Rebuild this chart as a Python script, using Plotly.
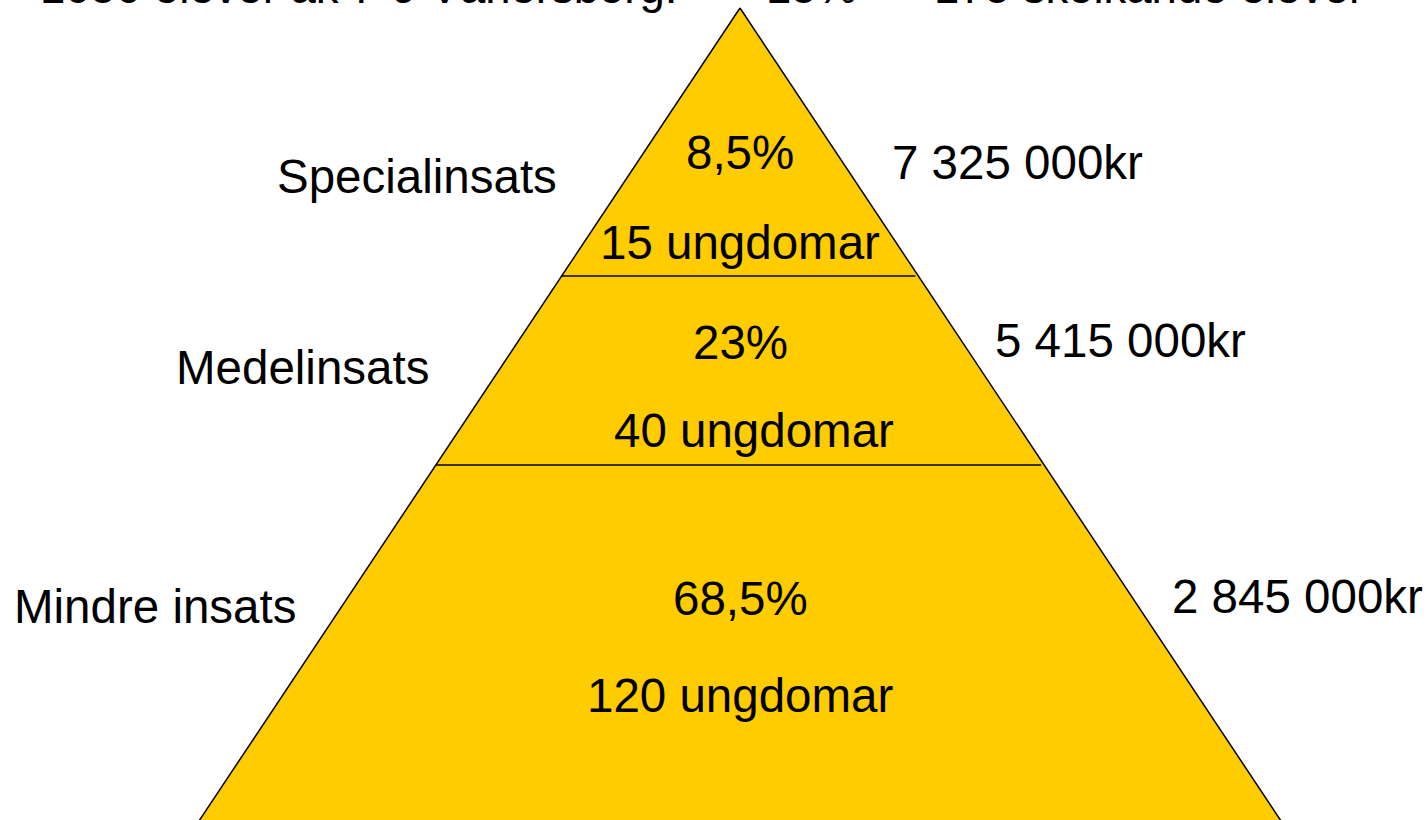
import plotly.graph_objects as go

# Data
levels = ["Specialinsats", "Medelinsats", "Mindre insats"]
percents = ["8,5%", "23%", "68,5%"]
counts = ["15 ungdomar", "40 ungdomar", "120 ungdomar"]
costs = ["7 325 000kr", "5 415 000kr", "2 845 000kr"]
header = "1050 elever åk 7-9 Vänersborg:       15%  =  175 skolkande elever"

# Layout geometry (pixels in a 1426x820 canvas)
W, H = 1426, 820
apex_x, apex_y = 740, 8
slope = 0.6655  # horizontal run per vertical pixel of pyramid sides
base_y = 830
dividers_y = [276, 465]

FONT = "Liberation Sans, Arial, sans-serif"
FS = 47.5
HFS = 45.5
YELLOW = "#FFCC00"

fig = go.Figure()

half = slope * (base_y - apex_y)
fig.add_trace(go.Scatter(
    x=[apex_x, apex_x + half, apex_x - half, apex_x],
    y=[apex_y, base_y, base_y, apex_y],
    mode="lines", fill="toself", fillcolor=YELLOW,
    line=dict(color="black", width=1.5), hoverinfo="skip", showlegend=False))

for dy in dividers_y:
    hw = slope * (dy - apex_y)
    fig.add_trace(go.Scatter(
        x=[apex_x - hw, apex_x + hw - 3], y=[dy, dy], mode="lines",
        line=dict(color="black", width=1.5), hoverinfo="skip", showlegend=False))

label_pos = [(417, 176), (302, 367), (155, 606)]
pct_pos = [(740, 152), (740, 342), (740, 598)]
cnt_pos = [(740, 242), (754, 430), (740, 695)]
cost_pos = [(1017, 162), (1120, 340), (1297, 596)]

def txt(s, pos):
    fig.add_annotation(x=pos[0], y=pos[1], text=s, showarrow=False,
                       xanchor="center", yanchor="middle",
                       font=dict(family=FONT, size=FS, color="black"))

for i in range(3):
    txt(levels[i], label_pos[i])
    txt(percents[i], pct_pos[i])
    txt(counts[i], cnt_pos[i])
    txt(costs[i], cost_pos[i])

fig.add_annotation(x=38 / W, y=1 + 12 / H, xref="paper", yref="paper",
                   text=header, showarrow=False, xanchor="left", yanchor="middle",
                   font=dict(family=FONT, size=HFS, color="black"))

fig.update_layout(
    width=W, height=H, margin=dict(l=0, r=0, t=0, b=0),
    paper_bgcolor="white", plot_bgcolor="white",
    xaxis=dict(range=[0, W], visible=False, fixedrange=True),
    yaxis=dict(range=[H, 0], visible=False, fixedrange=True),
)

fig.write_html("out.html", config={"displayModeBar": False},
               post_script="document.body.style.margin='0';document.body.style.overflow='hidden';")
